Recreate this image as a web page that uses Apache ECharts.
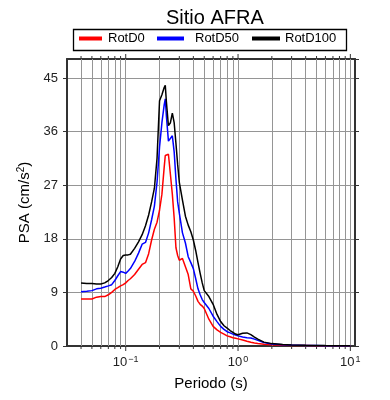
<!DOCTYPE html>
<html><head><meta charset="utf-8">
<script src="https://cdn.jsdelivr.net/npm/echarts@6/dist/echarts.min.js"></script>
<style>html,body{margin:0;padding:0;background:#fff}#c{width:390px;height:400px}</style>
</head><body><div id="c"></div>
<script>
const periods = [0.04,0.045,0.05,0.055,0.06,0.065,0.07,0.075,0.08,0.085,0.09,0.095,
  0.1,0.105,0.11,0.12,0.13,0.14,0.15,0.16,0.17,0.18,0.19,0.2,0.21,0.22,0.225,0.23,0.24,0.25,0.26,0.27,0.28,0.29,0.3,
  0.32,0.34,0.36,0.38,0.4,0.42,0.44,0.46,0.48,0.5,
  0.55,0.6,0.65,0.7,0.75,0.8,0.85,0.9,0.95,1.0,
  1.1,1.2,1.3,1.4,1.5,1.7,2.0,2.5,3,4,5,6,7,8,10];
const rotD0 = [7.9,7.9,7.9,8.2,8.3,8.3,8.6,9.0,9.5,9.8,10.1,10.3,
  10.6,11.0,11.3,12.0,12.9,13.7,14.0,15.5,17.8,19.6,20.8,22.8,25.5,30.0,32.0,32.1,32.2,28.8,25.5,21.5,16.5,15.2,14.4,
  14.7,13.3,12.0,9.6,9.2,8.4,7.5,7.0,6.7,6.3,
  4.5,3.3,2.7,2.3,2.0,1.7,1.55,1.4,1.3,1.2,
  1.0,0.8,0.62,0.5,0.42,0.3,0.2,0.14,0.1,0.07,0.05,0.04,0.035,0.03,0.03];
const rotD50 = [9.1,9.2,9.3,9.6,9.7,9.9,10.1,10.3,11.0,11.8,12.5,12.4,
  12.2,12.6,13.0,14.2,15.6,17.1,17.4,19.0,21.2,23.5,27.5,33.4,37.5,40.5,41.5,38.7,34.4,34.2,35.3,32.6,28.0,24.2,22.3,
  19.0,17.3,15.0,14.0,13.0,11.3,9.6,8.6,7.8,7.3,
  6.3,5.0,4.1,3.3,2.8,2.4,2.2,2.0,1.85,1.7,
  1.5,1.4,1.35,1.15,0.95,0.6,0.35,0.22,0.15,0.1,0.08,0.06,0.05,0.045,0.04];
const rotD100 = [10.6,10.5,10.5,10.4,10.4,10.6,11.0,11.5,12.2,13.3,14.6,15.2,
  15.3,15.3,15.4,16.4,17.5,18.7,20.2,22.0,24.2,26.5,31.5,41.2,42.2,43.4,43.8,41.1,37.0,37.5,39.1,37.5,34.0,30.5,27.5,
  24.5,21.8,20.3,19.2,17.8,16.0,14.0,12.2,10.6,9.3,
  8.3,7.0,5.3,4.1,3.4,3.0,2.6,2.3,2.0,1.9,
  2.15,2.2,1.9,1.5,1.15,0.65,0.4,0.25,0.18,0.12,0.09,0.07,0.06,0.05,0.04];
const seriesNames = ['RotD0','RotD50','RotD100'];
const seriesColors = ['#ff0000','#0000ff','#000000'];
const xMajorTicks = [0.1, 1, 10];
const xMinorTicks = [0.04,0.05,0.06,0.07,0.08,0.09,0.2,0.3,0.4,0.5,0.6,0.7,0.8,0.9,2,3,4,5,6,7,8,9];
const xTickLabels = {'0.1':'10{sup|−1}','1':'10{sup|0}','10':'10{sup|1}'};
const yTicks = [0,9,18,27,36,45];
const xMin = 0.03, xMax = 11, yMin = 0, yMax = 48.2, yStep = 9;

const FONT = 'Liberation Sans, Arial, sans-serif';
const chart = echarts.init(document.getElementById('c'), null, {renderer:'canvas'});
const gridVals = xMajorTicks.concat(xMinorTicks);
const tickData = xMajorTicks.map(v=>[v, yMin, 1]).concat(xMinorTicks.map(v=>[v, yMin, 0]));
const lineSeries = seriesNames.map((n,k)=>({
  name:n, type:'line', xAxisIndex:0, yAxisIndex:0, showSymbol:false, symbol:'none', z:10,
  lineStyle:{color:seriesColors[k], width:1.5}, itemStyle:{color:seriesColors[k]},
  data: periods.map((p,i)=>[p,[rotD0,rotD50,rotD100][k][i]])
}));
const legendDefs = [
  {name:'RotD0', left:79, w:23, pad:[0,0,0,1]},
  {name:'RotD50', left:157, w:27, pad:[0,0,0,6]},
  {name:'RotD100', left:252, w:28, pad:[0,0,0,0]}
];
const option = {
  animation:false,
  backgroundColor:'#fff',
  title:{text:'Sitio AFRA', left:161, top:3, textStyle:{fontFamily:FONT, fontSize:20, fontWeight:'normal', color:'#000'}},
  legend: legendDefs.map(d=>({data:[d.name], left:d.left, top:32, icon:'rect', itemWidth:d.w, itemHeight:4,
    padding:0, textStyle:{fontFamily:FONT, fontSize:13, color:'#000', padding:d.pad}, selectedMode:false})),
  graphic:[{type:'rect', shape:{x:73.5, y:29.5, width:273, height:21}, style:{fill:'none', stroke:'#000', lineWidth:1.3}, silent:true}],
  grid:{left:67, right:35, top:59, bottom:54, containLabel:false},
  xAxis:[
    {type:'log', logBase:10, min:xMin, max:xMax, position:'bottom',
     axisLine:{show:true, onZero:false, lineStyle:{color:'#333', width:2}},
     axisTick:{show:false}, splitLine:{show:false},
     axisLabel:{showMinLabel:false, showMaxLabel:false, margin:9, fontFamily:FONT, fontSize:13, color:'#222',
       formatter:(v)=>{const k=String(+v.toPrecision(6)); return xTickLabels[k]||'';},
       rich:{sup:{fontSize:9, fontFamily:FONT, color:'#222', verticalAlign:'top', lineHeight:14, padding:[0,0,7,1]}}},
     name:'Periodo (s)', nameLocation:'middle', nameGap:28, nameTextStyle:{fontFamily:FONT, fontSize:15, color:'#000'}},
    {type:'log', logBase:10, min:xMin, max:xMax, position:'top',
     axisLine:{show:true, onZero:false, lineStyle:{color:'#333', width:2}},
     axisTick:{show:false}, axisLabel:{show:false}, splitLine:{show:false}}
  ],
  yAxis:[
    {type:'value', min:yMin, max:yMax, interval:yStep, position:'left',
     axisLine:{show:true, lineStyle:{color:'#333', width:2}},
     axisTick:{show:true, inside:false, length:4, lineStyle:{color:'#333'}},
     splitLine:{show:true, lineStyle:{color:'#959595', width:1}},
     axisLabel:{showMaxLabel:false, margin:9, fontFamily:FONT, fontSize:13, color:'#222'},
     name:'PSA (cm/s{sup|2})', nameLocation:'middle', nameGap:31, nameRotate:90,
     nameTextStyle:{fontFamily:FONT, fontSize:15, color:'#000',
       rich:{sup:{fontSize:10, fontFamily:FONT, color:'#000', verticalAlign:'top', padding:[0,0,7,0]}}}},
    {type:'value', min:yMin, max:yMax, interval:yStep, position:'right',
     axisLine:{show:true, lineStyle:{color:'#333', width:2}},
     axisTick:{show:true, inside:false, length:4, lineStyle:{color:'#333'}},
     splitLine:{show:false}, axisLabel:{show:false}}
  ],
  series:[
    {type:'line', data:[], silent:true, z:1,
     markLine:{silent:true, symbol:['none','none'], animation:false, label:{show:false},
       lineStyle:{color:'#959595', width:1, type:'solid'},
       data: gridVals.map(v=>({xAxis:v}))}},
    {type:'custom', silent:true, clip:false, z:5, xAxisIndex:0, yAxisIndex:0,
     data: tickData, encode:{x:0, y:1},
     renderItem:(params, api)=>{
       const v = api.value(0), major = api.value(2);
       const b = api.coord([v, yMin]), t = api.coord([v, yMax]);
       const len = major ? 5 : 3;
       return {type:'group', children:[
         {type:'line', shape:{x1:b[0], y1:b[1], x2:b[0], y2:b[1]+len}, style:{stroke:'#333', lineWidth:1}},
         {type:'line', shape:{x1:t[0], y1:t[1], x2:t[0], y2:t[1]-len}, style:{stroke:'#333', lineWidth:1}}
       ]};
     }}
  ].concat(lineSeries)
};
chart.setOption(option);
</script></body></html>
